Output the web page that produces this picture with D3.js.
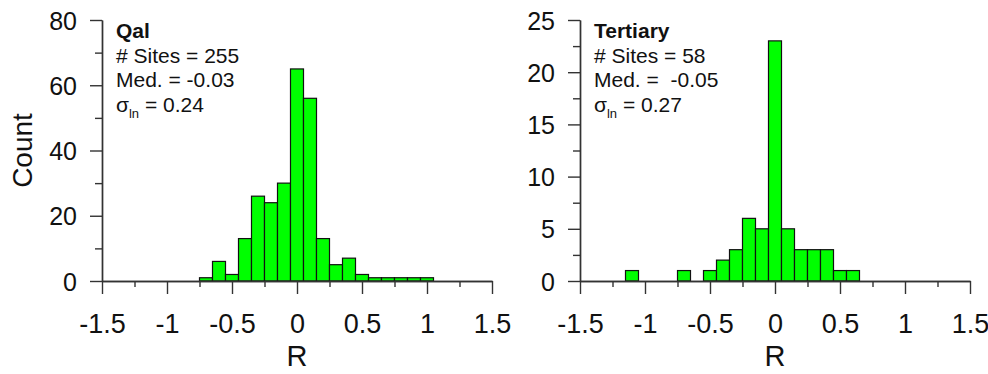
<!DOCTYPE html>
<html lang="en">
<head>
<meta charset="UTF-8">
<title>R histograms</title>
<script src="https://cdn.jsdelivr.net/npm/d3@7"></script>
<style>
    body { margin: 0; background: #fff; }
    svg { display: block; font-family: 'Liberation Sans', Arial, sans-serif; }
    .axis path, .axis line { stroke: #333; stroke-width: 1.4px; }
    .axis text { fill: #111; }
    .bar { fill: #00ff00; stroke: #111; stroke-width: 1.2px; }
    .note { fill: #111; font-size: 21px; white-space: pre; }
</style>
</head>
<body>
<svg id="chart" width="988" height="374"></svg>
<script>
// bin centres (bin width 0.1) and counts
const binWidth = 0.1;
const qalBins = [-0.7, -0.6, -0.5, -0.4, -0.3, -0.2, -0.1, 0.0, 0.1, 0.2, 0.3, 0.4, 0.5, 0.6, 0.7, 0.8, 0.9, 1.0];
const qalCounts = [1, 6, 2, 13, 26, 24, 30, 65, 56, 13, 5, 7, 2, 1, 1, 1, 1, 1];
const tertiaryBins = [-1.1, -0.7, -0.5, -0.4, -0.3, -0.2, -0.1, 0.0, 0.1, 0.2, 0.3, 0.4, 0.5, 0.6];
const tertiaryCounts = [1, 1, 1, 2, 3, 6, 5, 23, 5, 3, 3, 3, 1, 1];

const xTicks = [-1.5, -1, -0.5, 0, 0.5, 1, 1.5];
const xMinor = [-1.25, -0.75, -0.25, 0.25, 0.75, 1.25];
const qalYTicks = [0, 20, 40, 60, 80];
const qalYMinor = [10, 30, 50, 70];
const tertYTicks = [0, 5, 10, 15, 20, 25];
const tertYMinor = [2.5, 7.5, 12.5, 17.5, 22.5];

const panels = [
    { left: 102, title: 'Qal', sites: '# Sites = 255', med: 'Med. = -0.03', sigma: ' = 0.24',
      bins: qalBins, counts: qalCounts, yMax: 80, yTicks: qalYTicks, yMinor: qalYMinor, yLabel: 'Count' },
    { left: 580, title: 'Tertiary', sites: '# Sites = 58', med: 'Med. =  -0.05', sigma: ' = 0.27',
      bins: tertiaryBins, counts: tertiaryCounts, yMax: 25, yTicks: tertYTicks, yMinor: tertYMinor, yLabel: null }
];

const svg = d3.select('#chart');
const plotTop = 20, plotBottom = 281, plotW = 390;
const plain = d => String(d);   // keep ascii hyphen as in the figure

panels.forEach(p => {
    const x = d3.scaleLinear().domain([-1.5, 1.5]).range([p.left, p.left + plotW]);
    const y = d3.scaleLinear().domain([0, p.yMax]).range([plotBottom, plotTop]);
    const g = svg.append('g');

    // bars
    g.selectAll('rect.bar')
        .data(p.bins.map((b, i) => ({ c: b, n: p.counts[i] })))
        .enter().append('rect')
        .attr('class', 'bar')
        .attr('x', d => x(d.c - binWidth / 2))
        .attr('width', d => x(d.c + binWidth / 2) - x(d.c - binWidth / 2))
        .attr('y', d => y(d.n))
        .attr('height', d => y(0) - y(d.n));

    // x axis
    g.append('g').attr('class', 'axis')
        .attr('transform', `translate(0,${plotBottom})`)
        .call(d3.axisBottom(x).tickValues(xMinor).tickSize(6).tickSizeOuter(0).tickFormat(''));
    const xa = g.append('g').attr('class', 'axis')
        .attr('transform', `translate(0,${plotBottom})`)
        .call(d3.axisBottom(x).tickValues(xTicks).tickSize(13).tickSizeOuter(0).tickFormat(plain));
    xa.selectAll('text').attr('font-size', 27).attr('y', 52).attr('dy', 0);

    // y axis
    g.append('g').attr('class', 'axis')
        .attr('transform', `translate(${p.left},0)`)
        .call(d3.axisLeft(y).tickValues(p.yMinor).tickSize(7).tickSizeOuter(0).tickFormat(''));
    const ya = g.append('g').attr('class', 'axis')
        .attr('transform', `translate(${p.left},0)`)
        .call(d3.axisLeft(y).tickValues(p.yTicks).tickSize(12).tickSizeOuter(0).tickFormat(plain));
    ya.selectAll('text').attr('font-size', 25).attr('x', -25).attr('dy', '0.36em');

    // axis titles
    g.append('text')
        .attr('x', x(0)).attr('y', 366)
        .attr('text-anchor', 'middle').attr('font-size', 29).attr('fill', '#111')
        .text('R');
    if (p.yLabel) {
        g.append('text')
            .attr('transform', `translate(32,${(plotTop + plotBottom) / 2}) rotate(-90)`)
            .attr('text-anchor', 'middle').attr('font-size', 28).attr('fill', '#111')
            .text(p.yLabel);
    }

    // annotation block
    const tx = p.left + 14;
    g.append('text').attr('class', 'note').attr('x', tx).attr('y', 38)
        .attr('font-weight', 'bold').attr('font-size', 22).text(p.title);
    g.append('text').attr('class', 'note').attr('x', tx).attr('y', 63).text(p.sites);
    g.append('text').attr('class', 'note').attr('x', tx).attr('y', 87).text(p.med);
    const s = g.append('text').attr('class', 'note').attr('x', tx).attr('y', 112);
    s.append('tspan').text('σ');
    s.append('tspan').attr('font-size', 13).attr('dy', 6).text('ln');
    s.append('tspan').attr('dy', -6).text(p.sigma);
});
</script>
</body>
</html>
